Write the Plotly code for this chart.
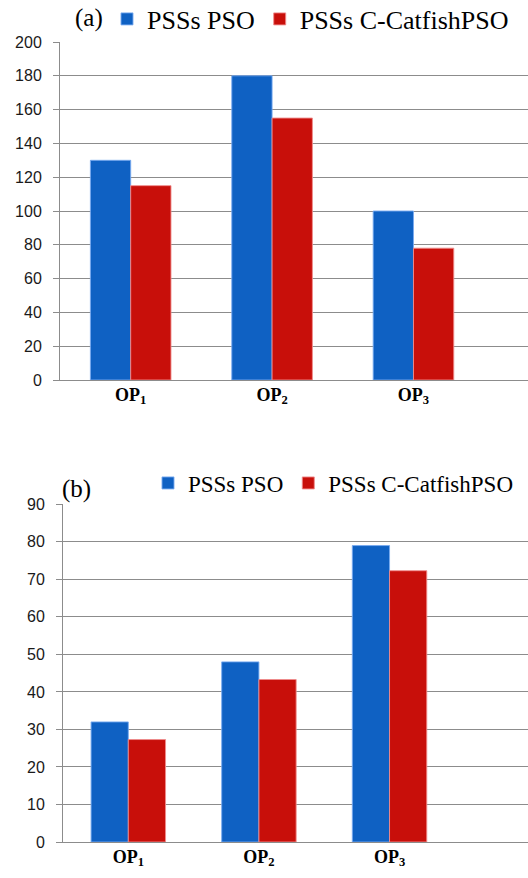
import plotly.graph_objects as go

categories = ["<b>OP<sub>1</sub></b>", "<b>OP<sub>2</sub></b>", "<b>OP<sub>3</sub></b>"]
series_names = ["PSSs PSO", "PSSs C-CatfishPSO"]
a_pso = [130, 180, 100]
a_catfish = [115, 155, 78]
b_pso = [32, 48, 79]
b_catfish = [27.3, 43.3, 72.3]

BLUE = "#0F61C3"
RED = "#C80F0A"
GRID = "#8c8c8c"
H = 878
W = 528
SERIF = "Liberation Serif"

fig = go.Figure()
fig.add_trace(go.Bar(x=categories, y=a_pso, name=series_names[0], marker_color=BLUE,
                     marker_line=dict(color="rgba(120,170,240,0.9)", width=1),
                     xaxis="x", yaxis="y", legend="legend"))
fig.add_trace(go.Bar(x=categories, y=a_catfish, name=series_names[1], marker_color=RED,
                     marker_line=dict(color="rgba(240,140,140,0.9)", width=1),
                     xaxis="x", yaxis="y", legend="legend"))
fig.add_trace(go.Bar(x=categories, y=b_pso, name=series_names[0], marker_color=BLUE,
                     marker_line=dict(color="rgba(120,170,240,0.9)", width=1),
                     xaxis="x2", yaxis="y2", legend="legend2"))
fig.add_trace(go.Bar(x=categories, y=b_catfish, name=series_names[1], marker_color=RED,
                     marker_line=dict(color="rgba(240,140,140,0.9)", width=1),
                     xaxis="x2", yaxis="y2", legend="legend2"))

yfont = dict(family="Liberation Sans", size=16, color="#1a1a1a")
xfont = dict(family=SERIF, size=18, color="#000")

common_y = dict(showgrid=True, gridcolor=GRID, gridwidth=1, showline=True, linecolor=GRID,
                linewidth=1, ticks="outside", ticklen=6, tickcolor=GRID, tickfont=yfont,
                zeroline=False, ticklabelstandoff=8)
common_x = dict(showline=True, linecolor=GRID, linewidth=1, ticks="", tickfont=xfont,
                showgrid=False, zeroline=False, ticklabelstandoff=-2)

fig.update_layout(
    width=W, height=H,
    margin=dict(l=0, r=0, t=0, b=0, autoexpand=False),
    paper_bgcolor="white", plot_bgcolor="white",
    hovermode=False,
    barmode="group", bargap=0.43, bargroupgap=0,
    xaxis=dict(domain=[60 / W, 1], range=[-0.5, 2.81], anchor="y", **common_x),
    yaxis=dict(domain=[1 - 380 / H, 1 - 42 / H], range=[0, 200], dtick=20, anchor="x", **common_y),
    xaxis2=dict(domain=[63 / W, 1], range=[-0.5, 3.06], anchor="y2", **common_x),
    yaxis2=dict(domain=[1 - 842 / H, 1 - 504.3 / H], range=[0, 90], dtick=10, anchor="x2", **common_y),
    legend=dict(orientation="h", x=107 / W, xanchor="left", y=1 - 19 / H, yanchor="middle",
                font=dict(family=SERIF, size=26, color="#000"),
                bgcolor="rgba(0,0,0,0)", itemclick=False, traceorder="normal"),
    legend2=dict(orientation="h", x=148 / W, xanchor="left", y=1 - 483 / H, yanchor="middle",
                 font=dict(family=SERIF, size=23, color="#000"),
                 bgcolor="rgba(0,0,0,0)", itemclick=False, traceorder="normal"),
    annotations=[
        dict(text="(a)", x=73 / W, y=1 - 18 / H, xref="paper", yref="paper", xanchor="left",
             yanchor="middle", showarrow=False,
             font=dict(family=SERIF, size=25, color="#000")),
        dict(text="(b)", x=60 / W, y=1 - 489 / H, xref="paper", yref="paper", xanchor="left",
             yanchor="middle", showarrow=False,
             font=dict(family=SERIF, size=25, color="#000")),
    ],
)

fig.write_html("out.html", config={"displayModeBar": False, "staticPlot": True},
               post_script="document.body.style.margin='0px';")
